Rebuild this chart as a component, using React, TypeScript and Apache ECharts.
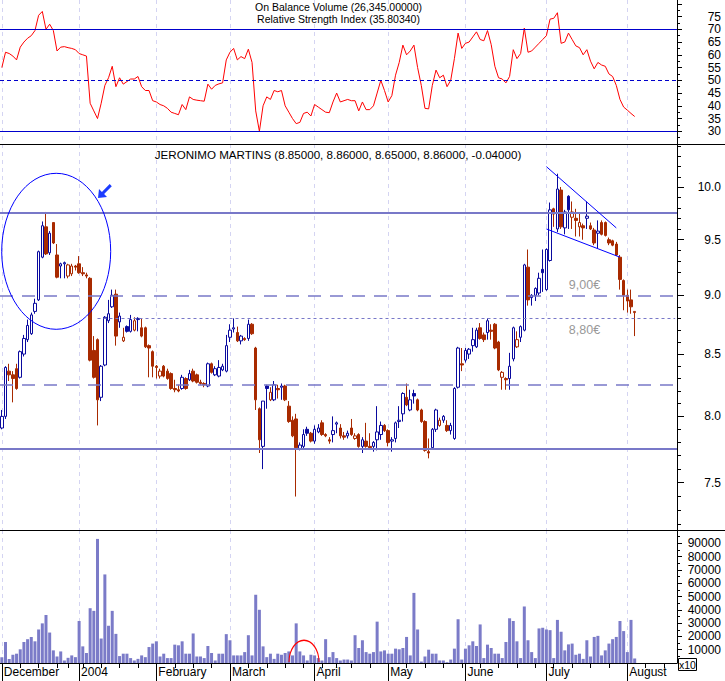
import React, { useEffect, useRef } from 'react';
import * as echarts from 'echarts';

const FONT = "'Liberation Sans', Arial, sans-serif";
const BLUE = '#0a0a9e';
const RED = '#a82a00';
const LEVEL_COLOR = '#7878c8';
const VOLUME_COLOR = '#7b7bc8';
const SEPARATOR_COLOR = '#d4d4f2';
const RSI_LEVEL_COLOR = '#0000cc';

// calendar of the sessions (category slots)
const FIRST_SESSION_UTC = Date.UTC(2003, 11, 1);
const CLOSED_DAYS = ['2003-12-25', '2003-12-26', '2004-01-01', '2004-04-09', '2004-04-12'];
const SLOT_COUNT = 184;
const MONTH_LABELS: Record<string, string> = {
  '12': 'December', '01': '2004', '02': 'February', '03': 'March', '04': 'April',
  '05': 'May', '06': 'June', '07': 'July', '08': 'August',
};

// [open, high, low, close]
const OHLC: number[][] = [
  [7.91, 8.05, 7.90, 8.00], [8.00, 8.40, 7.98, 8.39], [8.36, 8.42, 8.28, 8.33], [8.33, 8.36, 8.11, 8.30], [8.38, 8.42, 8.21, 8.22],
  [8.31, 8.53, 8.30, 8.52], [8.50, 8.66, 8.48, 8.63], [8.62, 8.79, 8.60, 8.74], [8.67, 8.85, 8.66, 8.83], [8.86, 8.97, 8.84, 8.93],
  [8.96, 9.40, 8.95, 9.39], [9.34, 9.67, 9.33, 9.63], [9.62, 9.76, 9.36, 9.37], [9.38, 9.58, 9.36, 9.56], [9.66, 9.66, 9.46, 9.47],
  [9.36, 9.46, 9.15, 9.16], [9.26, 9.29, 9.15, 9.28], [9.28, 9.30, 9.15, 9.29], [9.17, 9.28, 9.15, 9.27], [9.19, 9.28, 9.17, 9.26],
  [9.26, 9.27, 9.22, 9.25], [9.28, 9.35, 9.19, 9.20], [9.20, 9.25, 9.17, 9.19], [9.18, 9.20, 9.15, 9.17], [9.15, 9.16, 8.44, 8.45],
  [8.53, 8.65, 8.30, 8.31], [8.62, 8.63, 7.93, 8.13], [8.15, 8.41, 8.12, 8.40], [8.41, 8.82, 8.40, 8.81], [8.78, 8.96, 8.76, 8.84],
  [8.90, 9.05, 8.89, 9.00], [9.01, 9.05, 8.57, 8.65], [8.77, 8.85, 8.72, 8.82], [8.61, 8.72, 8.60, 8.64], [8.73, 8.74, 8.68, 8.69],
  [8.69, 8.83, 8.68, 8.79], [8.70, 8.81, 8.69, 8.78], [8.79, 8.81, 8.69, 8.80], [8.72, 8.80, 8.64, 8.65], [8.72, 8.73, 8.55, 8.56],
  [8.57, 8.58, 8.31, 8.55], [8.52, 8.53, 8.31, 8.40], [8.40, 8.41, 8.30, 8.39], [8.32, 8.38, 8.30, 8.36], [8.40, 8.41, 8.31, 8.32],
  [8.36, 8.38, 8.29, 8.30], [8.34, 8.35, 8.21, 8.22], [8.22, 8.29, 8.19, 8.21], [8.21, 8.25, 8.19, 8.20], [8.22, 8.33, 8.21, 8.31],
  [8.30, 8.31, 8.21, 8.22], [8.29, 8.37, 8.28, 8.34], [8.36, 8.38, 8.27, 8.28], [8.33, 8.34, 8.26, 8.27], [8.27, 8.29, 8.25, 8.26],
  [8.26, 8.27, 8.23, 8.25], [8.24, 8.43, 8.23, 8.42], [8.42, 8.43, 8.34, 8.35], [8.33, 8.40, 8.32, 8.38], [8.32, 8.45, 8.31, 8.39],
  [8.37, 8.42, 8.36, 8.40], [8.36, 8.66, 8.35, 8.57], [8.64, 8.75, 8.60, 8.70], [8.71, 8.80, 8.68, 8.72], [8.68, 8.73, 8.60, 8.61],
  [8.61, 8.66, 8.58, 8.65], [8.63, 8.64, 8.61, 8.62], [8.63, 8.79, 8.61, 8.75], [8.75, 8.76, 8.66, 8.67], [8.55, 8.56, 8.05, 8.13],
  [8.06, 8.07, 7.72, 7.82], [7.77, 8.12, 7.60, 8.12], [8.24, 8.25, 8.06, 8.22], [8.13, 8.23, 8.12, 8.19], [8.13, 8.28, 8.12, 8.25],
  [8.22, 8.25, 8.14, 8.21], [8.23, 8.26, 8.13, 8.24], [8.24, 8.25, 8.12, 8.13], [8.08, 8.12, 7.95, 7.96], [7.97, 8.00, 7.84, 7.85],
  [7.98, 8.02, 7.40, 7.76], [7.75, 7.80, 7.74, 7.78], [7.77, 7.90, 7.75, 7.86], [7.90, 7.92, 7.85, 7.87], [7.87, 7.88, 7.80, 7.81],
  [7.81, 7.93, 7.79, 7.90], [7.88, 7.94, 7.87, 7.91], [7.95, 7.97, 7.85, 7.86], [7.86, 7.87, 7.84, 7.85], [7.82, 7.84, 7.79, 7.81],
  [7.86, 8.00, 7.80, 7.89], [7.94, 7.96, 7.87, 7.95], [7.91, 7.94, 7.83, 7.85], [7.85, 7.88, 7.82, 7.84], [7.85, 7.89, 7.83, 7.87],
  [7.91, 7.98, 7.85, 7.86], [7.83, 7.87, 7.82, 7.85], [7.86, 7.87, 7.76, 7.77], [7.77, 7.84, 7.72, 7.82], [7.81, 7.95, 7.76, 7.77],
  [7.77, 7.87, 7.75, 7.76], [7.77, 7.81, 7.73, 7.80], [7.82, 8.08, 7.74, 7.88], [7.86, 7.96, 7.82, 7.93], [7.93, 7.94, 7.88, 7.89],
  [7.89, 7.90, 7.77, 7.80], [7.81, 7.84, 7.73, 7.82], [7.83, 7.96, 7.80, 7.95], [7.96, 8.08, 7.91, 7.97], [8.02, 8.19, 7.96, 8.18],
  [8.15, 8.26, 8.08, 8.09], [8.05, 8.21, 8.04, 8.13], [8.18, 8.21, 8.10, 8.16], [8.13, 8.14, 8.04, 8.05], [8.05, 8.06, 7.95, 7.96],
  [7.96, 7.97, 7.73, 7.74], [7.73, 7.83, 7.68, 7.72], [7.76, 7.91, 7.75, 7.90], [7.90, 8.06, 7.88, 8.05], [7.93, 7.99, 7.92, 7.97],
  [7.97, 8.01, 7.95, 8.00], [7.93, 7.97, 7.88, 7.89], [7.89, 7.95, 7.86, 7.93], [7.83, 8.23, 7.82, 8.22], [8.23, 8.56, 8.22, 8.55],
  [8.42, 8.55, 8.36, 8.41], [8.45, 8.55, 8.43, 8.53], [8.50, 8.55, 8.46, 8.54], [8.57, 8.72, 8.52, 8.62], [8.56, 8.72, 8.55, 8.70],
  [8.72, 8.76, 8.62, 8.63], [8.66, 8.68, 8.60, 8.62], [8.68, 8.80, 8.62, 8.78], [8.70, 8.75, 8.62, 8.69], [8.75, 8.76, 8.54, 8.55],
  [8.60, 8.61, 8.36, 8.37], [8.31, 8.36, 8.21, 8.35], [8.30, 8.31, 8.21, 8.29], [8.30, 8.51, 8.21, 8.40], [8.46, 8.73, 8.44, 8.72],
  [8.56, 8.69, 8.55, 8.62], [8.64, 8.74, 8.60, 8.73], [8.70, 9.28, 8.69, 9.27], [9.25, 9.41, 8.91, 8.96], [8.98, 9.01, 8.91, 9.00],
  [9.00, 9.07, 8.95, 9.06], [9.02, 9.20, 9.00, 9.15], [9.23, 9.41, 9.03, 9.20], [9.05, 9.42, 9.04, 9.41], [9.31, 9.85, 9.30, 9.78],
  [9.79, 9.80, 9.62, 9.74], [9.60, 10.13, 9.57, 9.98], [9.97, 10.00, 9.60, 9.62], [9.61, 9.78, 9.55, 9.76], [9.91, 9.92, 9.60, 9.78],
  [9.71, 9.86, 9.60, 9.76], [9.70, 9.79, 9.53, 9.68], [9.62, 9.75, 9.53, 9.66], [9.63, 9.65, 9.50, 9.61], [9.70, 9.86, 9.60, 9.72],
  [9.63, 9.66, 9.59, 9.60], [9.59, 9.61, 9.45, 9.47], [9.56, 9.68, 9.42, 9.58], [9.66, 9.68, 9.54, 9.55], [9.66, 9.67, 9.53, 9.54],
  [9.50, 9.52, 9.45, 9.47], [9.49, 9.50, 9.44, 9.45], [9.46, 9.48, 9.35, 9.36], [9.34, 9.36, 9.05, 9.14], [9.13, 9.14, 8.87, 9.00],
  [9.00, 9.05, 8.85, 8.95], [8.96, 9.05, 8.84, 8.90], [8.85, 8.86, 8.65, 8.86],
];

const VOLUME: number[] = [
  4400, 15800, 3100, 6200, 7000, 10300, 15800, 17900, 19600, 16300,
  25200, 29800, 36100, 22900, 9500, 4900, 8700, 1900, 3900, 5700,
  4400, 31600, 12500, 7500, 41200, 39200, 93300, 18400, 66600, 28000,
  39200, 21900, 5200, 7000, 7000, 3700, 1900, 3100, 5700, 4400,
  12000, 14600, 16300, 4900, 7000, 3700, 3700, 13800, 13300, 16300,
  7000, 7000, 22200, 4900, 4900, 3700, 12800, 7500, 1900, 7000,
  7000, 21700, 17100, 5700, 5700, 5700, 8200, 20900, 5700, 51300,
  40000, 12500, 4400, 7000, 3100, 7000, 6200, 7500, 8700, 5700,
  29800, 8700, 5700, 1900, 6200, 5700, 3700, 1900, 17900, 4400,
  8200, 3700, 1900, 2600, 2600, 1900, 20900, 11300, 17100, 8200,
  7000, 8200, 31100, 8700, 9500, 7000, 7000, 10800, 10300, 11300,
  19600, 5700, 52700, 25200, 1100, 4900, 10000, 7000, 7000, 1900,
  1900, 600, 2600, 10800, 32900, 2600, 10800, 13300, 16300, 12800,
  29000, 3700, 13800, 11300, 7000, 7000, 3700, 15800, 33600, 31600,
  16300, 3700, 42500, 17100, 8200, 3700, 26000, 26500, 25200, 24700,
  3700, 32400, 23500, 9500, 14000, 14600, 6200, 7000, 3100, 17100,
  4900, 19600, 20400, 5700, 9500, 14600, 17900, 19600, 31600, 24000,
  8200, 32400, 3400,
];

const RSI: number[] = [
  55, 61, 60.5, 59.5, 58, 63, 65, 66.5, 67.5, 69.5,
  75.5, 77, 70, 72, 69.5, 61.5, 63, 63.2, 62.8, 62.5,
  62, 60.5, 60, 59.5, 41, 38, 35, 41, 48, 51,
  55.5, 47.5, 51, 48.5, 49.5, 50.5, 50.5, 51.5, 47.5, 46,
  46, 42, 41.5, 40.5, 40, 39, 37.5, 37, 36.5, 40.5,
  38.5, 43.5, 42.5, 42.2, 42, 41.8, 48.5, 46.5, 48, 48.6,
  49, 58, 61, 62.5, 58, 59.3, 58.5, 62.2, 57, 38,
  30, 40, 43.5, 42.5, 46, 45.5, 46, 40, 37.5, 35,
  33, 33.5, 37, 37.5, 36, 40.5, 39.5, 38.5, 37.5, 37.3,
  41.5, 45, 41.5, 42, 42.5, 42, 42, 38, 41.5, 38.5,
  38.5, 40, 45, 50, 46, 41.5, 44, 52, 57, 63.8,
  60, 61.5, 63.8, 55, 48, 39, 38.8, 48, 54, 51,
  52, 47.5, 50, 58.5, 68.5, 62.5, 64.5, 65, 67, 69,
  66, 65.5, 69.5, 64, 55.5, 51, 50.5, 49, 51.5, 62,
  58.5, 60.5, 70.5, 61, 61.5, 63, 64.5, 66, 67.5, 74,
  74.3, 76.5, 64.5, 65, 68.5, 66, 63.5, 62.8, 60, 62,
  57.5, 54.5, 57, 56, 55.5, 52.5, 51.5, 48, 42.5, 39.5,
  38.3, 37, 35.8,
];

// axes
const RSI_MIN = 25.02;
const RSI_MAX = 81.49;
const RSI_LABELS = [30, 35, 40, 45, 50, 55, 60, 65, 70, 75];
const RSI_MAJOR_TICKS = [30, 35, 40, 45, 50, 55, 60, 65, 70, 75, 80];
const RSI_MINOR_TICKS = [27.5, 32.5, 37.5, 42.5, 47.5, 52.5, 57.5, 62.5, 67.5, 72.5, 77.5];
const RSI_LEVELS = [70, 50, 30];

const PRICE_MIN = 7.163;
const PRICE_MAX = 10.427;
const PRICE_LABELS = [7.5, 8.0, 8.5, 9.0, 9.5, 10.0];
const PRICE_MINOR_TICKS = [7.2, 7.3, 7.4, 7.6, 7.7, 7.8, 7.9, 8.1, 8.2, 8.3, 8.4, 8.6, 8.7, 8.8, 8.9,
  9.1, 9.2, 9.3, 9.4, 9.6, 9.7, 9.8, 9.9, 10.1, 10.2, 10.3, 10.4];
const SOLID_LEVELS = [9.75, 7.75];
const DASHED_LEVELS = [9.0, 8.25];
const DOTTED_LEVEL = 8.8;
const DOTTED_FROM_SLOT = 26;
const TREND_UPPER = [[148, 10.2], [167, 9.61]];
const TREND_LOWER = [[148, 9.6], [168, 9.34]];

const VOLUME_MAX = 100000;
const VOLUME_LABELS = [10000, 20000, 30000, 40000, 50000, 60000, 70000, 80000, 90000];
const VOLUME_MINOR_TICKS = [5000, 15000, 25000, 35000, 45000, 55000, 65000, 75000, 85000, 95000];

const TITLE_PRICE = 'JERONIMO MARTINS (8.85000, 8.86000, 8.65000, 8.86000, -0.04000)';
const TITLE_RSI = 'Relative Strength Index (35.80340)';
const TITLE_VOL = 'On Balance Volume (26,345.00000)';

function buildSessions(): string[] {
  const out: string[] = [];
  let t = FIRST_SESSION_UTC;
  while (out.length < SLOT_COUNT) {
    const d = new Date(t);
    const wd = d.getUTCDay();
    const s = d.toISOString().slice(0, 10);
    if (wd !== 0 && wd !== 6 && CLOSED_DAYS.indexOf(s) < 0) out.push(s);
    t += 86400000;
  }
  return out;
}

function buildOption() {
  const sessions = buildSessions();
  const weekday = (s: string) => new Date(s + 'T00:00:00Z').getUTCDay();
  const monthStart = (i: number) => i === 0 || sessions[i].slice(0, 7) !== sessions[i - 1].slice(0, 7);
  const weekStart = (i: number) => i === 0 || weekday(sessions[i]) < weekday(sessions[i - 1]);

  const candles = OHLC.map(([o, h, l, c], i) => {
    const prev = i === 0 ? o : OHLC[i - 1][3];
    const stroke = c >= prev ? BLUE : RED;
    const fill = c < o ? stroke : '#ffffff';
    return {
      value: [o, c, l, h],
      itemStyle: { color: fill, color0: fill, borderColor: stroke, borderColor0: stroke, borderWidth: 1 },
    };
  });

  const sepLine = {
    show: true,
    interval: (i: number) => monthStart(i),
    alignWithLabel: true,
    lineStyle: { color: SEPARATOR_COLOR, width: 1, type: [4, 4] },
  };
  const hiddenX = (gridIndex: number) => ({
    type: 'category', gridIndex, data: sessions, boundaryGap: true, position: 'bottom',
    axisLine: { show: false }, axisTick: { show: false }, axisLabel: { show: false },
    splitLine: sepLine,
  });

  const labelStyle = { color: '#000', fontSize: 12, fontFamily: FONT, align: 'right', margin: 44 };
  const black = { color: '#000', width: 1 };

  const priceLevels: any[] = [
    ...SOLID_LEVELS.map((v) => ({ yAxis: v, lineStyle: { color: LEVEL_COLOR, width: 2, type: 'solid' } })),
    ...DASHED_LEVELS.map((v) => ({ yAxis: v, lineStyle: { color: LEVEL_COLOR, width: 1.5, type: [13, 9] } })),
    [
      { coord: [DOTTED_FROM_SLOT, DOTTED_LEVEL], lineStyle: { color: LEVEL_COLOR, width: 1, type: [3, 3] } },
      { coord: [SLOT_COUNT - 1, DOTTED_LEVEL] },
    ],
    [{ coord: TREND_UPPER[0], lineStyle: { color: '#0000ff', width: 1, type: 'solid' } }, { coord: TREND_UPPER[1] }],
    [{ coord: TREND_LOWER[0], lineStyle: { color: '#0000ff', width: 1, type: 'solid' } }, { coord: TREND_LOWER[1] }],
  ];

  const text = (x: number, y: number, s: string, size: number, fill: string, extra: any = {}) => ({
    type: 'text', x, y, silent: true, z: 60, ...extra,
    style: {
      text: s, fill, fontSize: size, fontFamily: FONT,
      align: 'center', verticalAlign: 'middle', textAlign: 'center', textVerticalAlign: 'middle',
    },
  });

  return {
    animation: false,
    backgroundColor: '#ffffff',
    textStyle: { fontFamily: FONT },
    grid: [
      { left: 0, top: 0, width: 677, height: 144, outerBoundsMode: 'none', containLabel: false },
      { left: 0, top: 144, width: 677, height: 386, outerBoundsMode: 'none', containLabel: false },
      { left: 0, top: 530, width: 677, height: 133, outerBoundsMode: 'none', containLabel: false },
    ],
    xAxis: [
      hiddenX(0),
      hiddenX(1),
      {
        ...hiddenX(2),
        axisLine: { show: true, lineStyle: black },
        axisTick: { show: true, interval: (i: number) => weekStart(i), alignWithLabel: true, length: 5, lineStyle: black },
      },
      {
        type: 'category', gridIndex: 2, data: sessions, boundaryGap: true, position: 'bottom',
        axisLine: { show: false },
        axisTick: { show: true, interval: (i: number) => monthStart(i), alignWithLabel: true, length: 18, lineStyle: black },
        axisLabel: {
          show: true, interval: (i: number) => monthStart(i), align: 'left', margin: 3, padding: [0, 0, 0, 2],
          color: '#000', fontSize: 12, fontFamily: FONT,
          formatter: (v: string) => MONTH_LABELS[v.slice(5, 7)] || '',
        },
        splitLine: { show: false },
      },
    ],
    yAxis: [
      {
        type: 'value', gridIndex: 0, position: 'right', min: RSI_MIN, max: RSI_MAX,
        axisLine: { show: true, lineStyle: black },
        axisTick: { show: true, customValues: RSI_MAJOR_TICKS, length: 5, lineStyle: black },
        axisLabel: { ...labelStyle, customValues: RSI_LABELS, formatter: (v: number) => String(Math.round(v)) },
        splitLine: { show: false },
      },
      {
        type: 'value', gridIndex: 0, position: 'right', min: RSI_MIN, max: RSI_MAX,
        axisLine: { show: false }, axisLabel: { show: false }, splitLine: { show: false },
        axisTick: { show: true, customValues: RSI_MINOR_TICKS, length: 3, lineStyle: black },
      },
      {
        type: 'log', logBase: 10, gridIndex: 1, position: 'right', min: PRICE_MIN, max: PRICE_MAX,
        axisLine: { show: true, lineStyle: black },
        axisTick: { show: true, customValues: PRICE_LABELS, length: 7, lineStyle: black },
        axisLabel: { ...labelStyle, customValues: PRICE_LABELS, formatter: (v: number) => v.toFixed(1) },
        splitLine: { show: false },
      },
      {
        type: 'log', logBase: 10, gridIndex: 1, position: 'right', min: PRICE_MIN, max: PRICE_MAX,
        axisLine: { show: false }, axisLabel: { show: false }, splitLine: { show: false },
        axisTick: { show: true, customValues: PRICE_MINOR_TICKS, length: 4, lineStyle: black },
      },
      {
        type: 'value', gridIndex: 2, position: 'right', min: 0, max: VOLUME_MAX,
        axisLine: { show: true, lineStyle: black },
        axisTick: { show: true, customValues: VOLUME_LABELS, length: 5, lineStyle: black },
        axisLabel: { ...labelStyle, customValues: VOLUME_LABELS, formatter: (v: number) => String(v) },
        splitLine: { show: false },
      },
      {
        type: 'value', gridIndex: 2, position: 'right', min: 0, max: VOLUME_MAX,
        axisLine: { show: false }, axisLabel: { show: false }, splitLine: { show: false },
        axisTick: { show: true, customValues: VOLUME_MINOR_TICKS, length: 3, lineStyle: black },
      },
    ],
    series: [
      {
        type: 'line', name: 'RSI', xAxisIndex: 0, yAxisIndex: 0, data: RSI,
        symbol: 'none', showSymbol: false, lineStyle: { color: '#ff0000', width: 1 },
        markLine: {
          silent: true, symbol: 'none', label: { show: false },
          data: RSI_LEVELS.map((v) => ({
            yAxis: v,
            lineStyle: { color: RSI_LEVEL_COLOR, width: 1.2, type: v === 50 ? [4, 3] : 'solid' },
          })),
        },
      },
      {
        type: 'candlestick', name: 'JERONIMO MARTINS', xAxisIndex: 1, yAxisIndex: 2, data: candles,
        barWidth: 3,
        markLine: { silent: true, symbol: 'none', label: { show: false }, data: priceLevels },
      },
      {
        type: 'bar', name: 'Volume', xAxisIndex: 2, yAxisIndex: 4, data: VOLUME,
        barWidth: 3, itemStyle: { color: VOLUME_COLOR },
      },
    ],
    graphic: [
      { type: 'line', silent: true, z: 50, shape: { x1: 0, y1: 144.5, x2: 725, y2: 144.5 }, style: { stroke: '#000', lineWidth: 1 } },
      { type: 'line', silent: true, z: 50, shape: { x1: 0, y1: 530.5, x2: 725, y2: 530.5 }, style: { stroke: '#000', lineWidth: 1 } },
      text(338.5, 6.5, TITLE_VOL, 10.5, '#000'),
      text(338.5, 18.5, TITLE_RSI, 10.5, '#000'),
      text(338, 154, TITLE_PRICE, 11.6, '#000'),
      text(584.5, 285, '9,00€', 12.5, '#999999'),
      text(584.5, 330, '8,80€', 12.5, '#999999'),
      {
        type: 'ellipse', silent: true, z: 55,
        shape: { cx: 56.2, cy: 251.3, rx: 54.5, ry: 78 },
        style: { stroke: '#0000ff', fill: 'none', lineWidth: 1 },
      },
      {
        type: 'polygon', silent: true, z: 55,
        shape: { points: [[98, 198], [99, 189], [101.9, 191.9], [109.7, 184.1], [111.8, 186.3], [104.1, 194.1], [107, 197]] },
        style: { fill: '#1c3cff' },
      },
      {
        type: 'arc', silent: true, z: 55, x: 304, y: 662, scaleY: 1.45,
        shape: { cx: 0, cy: 0, r: 15, startAngle: Math.PI, endAngle: Math.PI * 2 },
        style: { stroke: '#ff0000', fill: 'none', lineWidth: 1, strokeNoScale: true },
      },
      {
        type: 'rect', silent: true, z: 100,
        shape: { x: 678.5, y: 658.5, width: 18, height: 12 },
        style: { fill: '#ffffff', stroke: '#000', lineWidth: 1 },
      },
      text(687.5, 665, 'x10', 10.5, '#000', { z: 101 }),
    ],
  };
}

export default function App() {
  const ref = useRef<HTMLDivElement>(null);
  useEffect(() => {
    if (!ref.current) return;
    const chart = echarts.init(ref.current, undefined, { renderer: 'svg' });
    chart.setOption(buildOption() as any);
    return () => chart.dispose();
  }, []);
  return (
    <div
      ref={ref}
      style={{ position: 'absolute', left: 0, top: 0, width: 725, height: 681, background: '#ffffff' }}
    />
  );
}
